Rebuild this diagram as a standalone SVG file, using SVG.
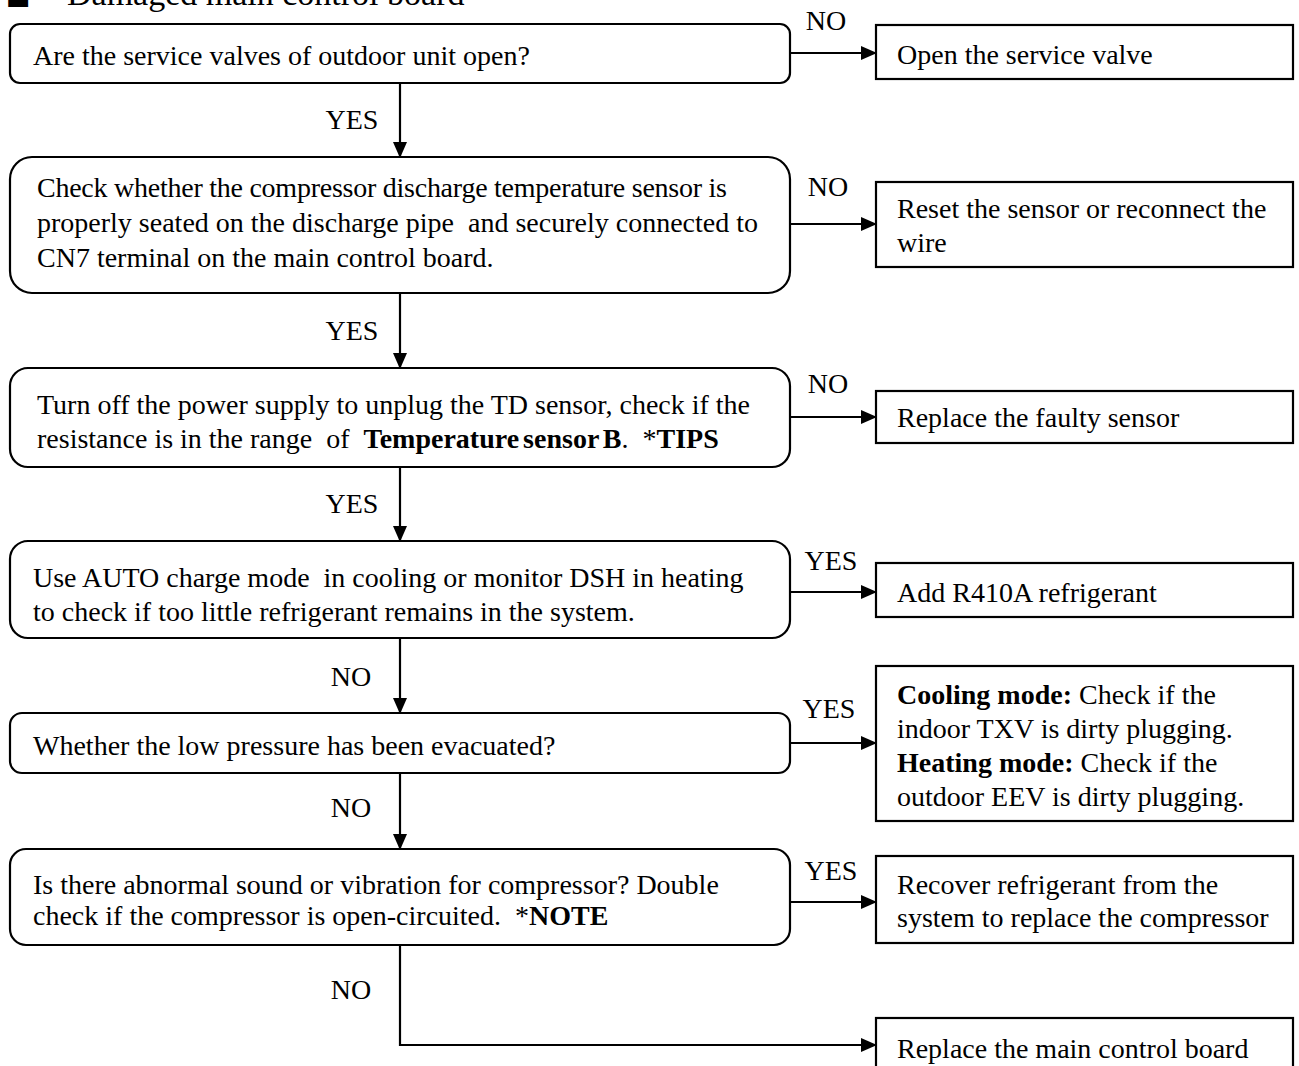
<svg xmlns="http://www.w3.org/2000/svg" width="1299" height="1066" viewBox="0 0 1299 1066">
<defs>
<style>
text{font-family:"Liberation Serif","Times New Roman",serif;font-size:28px;fill:#000;}
.t{font-size:34px;}
.b{font-weight:bold;}
.m{text-anchor:middle;}
.bx{fill:#fff;stroke:#000;stroke-width:2.2;}
.ln{fill:none;stroke:#000;stroke-width:2.2;}
</style>
<marker id="ah" markerUnits="userSpaceOnUse" markerWidth="16" markerHeight="14" refX="15" refY="7" orient="auto">
<path d="M0,0 L16,7 L0,14 Z" fill="#000"/>
</marker>
</defs>
<rect width="1299" height="1066" fill="#fff"/>
<g id="title">
<text x="6" y="4" style="font-family:'DejaVu Sans',sans-serif;font-size:26px">■</text>
<text class="t" x="67" y="5">Damaged main control board</text>
</g>
<g id="connectors">
<line class="ln" x1="790" y1="53" x2="876" y2="53" marker-end="url(#ah)"/>
<line class="ln" x1="400" y1="83" x2="400" y2="157" marker-end="url(#ah)"/>
<line class="ln" x1="790" y1="224" x2="876" y2="224" marker-end="url(#ah)"/>
<line class="ln" x1="400" y1="293" x2="400" y2="368" marker-end="url(#ah)"/>
<line class="ln" x1="790" y1="417" x2="876" y2="417" marker-end="url(#ah)"/>
<line class="ln" x1="400" y1="467" x2="400" y2="541" marker-end="url(#ah)"/>
<line class="ln" x1="790" y1="592" x2="876" y2="592" marker-end="url(#ah)"/>
<line class="ln" x1="400" y1="638" x2="400" y2="713" marker-end="url(#ah)"/>
<line class="ln" x1="790" y1="743" x2="876" y2="743" marker-end="url(#ah)"/>
<line class="ln" x1="400" y1="773" x2="400" y2="849" marker-end="url(#ah)"/>
<line class="ln" x1="790" y1="902" x2="876" y2="902" marker-end="url(#ah)"/>
<polyline class="ln" points="400,945 400,1045 876,1045" marker-end="url(#ah)"/>
<text class="m" x="826" y="30">NO</text>
<text class="m" x="352" y="129">YES</text>
<text class="m" x="828" y="196">NO</text>
<text class="m" x="352" y="340">YES</text>
<text class="m" x="828" y="393">NO</text>
<text class="m" x="352" y="513">YES</text>
<text class="m" x="831" y="570">YES</text>
<text class="m" x="351" y="686">NO</text>
<text class="m" x="829" y="718">YES</text>
<text class="m" x="351" y="817">NO</text>
<text class="m" x="831" y="880">YES</text>
<text class="m" x="351" y="999">NO</text>
</g>
<g id="q1">
<rect class="bx" x="10" y="24" width="780" height="59" rx="10"/>
<text x="33" y="65">Are the service valves of outdoor unit open?</text>
</g>
<g id="a1">
<rect class="bx" x="876" y="25" width="417" height="54"/>
<text x="897" y="64">Open the service valve</text>
</g>
<g id="q2">
<rect class="bx" x="10" y="157" width="780" height="136" rx="22"/>
<text x="37" y="197" textLength="690" lengthAdjust="spacing">Check whether the compressor discharge temperature sensor is</text>
<text x="37" y="232" xml:space="preserve">properly seated on the discharge pipe  and securely connected to</text>
<text x="37" y="267">CN7 terminal on the main control board.</text>
</g>
<g id="a2">
<rect class="bx" x="876" y="182" width="417" height="85"/>
<text x="897" y="218">Reset the sensor or reconnect the</text>
<text x="897" y="252">wire</text>
</g>
<g id="q3">
<rect class="bx" x="10" y="368" width="780" height="99" rx="18"/>
<text x="37" y="414">Turn off the power supply to unplug the TD sensor, check if the</text>
<text x="37" y="448" xml:space="preserve">resistance is in the range  of  <tspan class="b" style="word-spacing:-3px">Temperature sensor B</tspan>.  *<tspan class="b">TIPS</tspan></text>
</g>
<g id="a3">
<rect class="bx" x="876" y="391" width="417" height="52"/>
<text x="897" y="427">Replace the faulty sensor</text>
</g>
<g id="q4">
<rect class="bx" x="10" y="541" width="780" height="97" rx="18"/>
<text x="33" y="587" xml:space="preserve">Use AUTO charge mode  in cooling or monitor DSH in heating</text>
<text x="33" y="621">to check if too little refrigerant remains in the system.</text>
</g>
<g id="a4">
<rect class="bx" x="876" y="563" width="417" height="54"/>
<text x="897" y="602">Add R410A refrigerant</text>
</g>
<g id="q5">
<rect class="bx" x="10" y="713" width="780" height="60" rx="12"/>
<text x="33" y="755">Whether the low pressure has been evacuated?</text>
</g>
<g id="a5">
<rect class="bx" x="876" y="666" width="417" height="155"/>
<text x="897" y="704"><tspan class="b">Cooling mode:</tspan> Check if the</text>
<text x="897" y="738">indoor TXV is dirty plugging.</text>
<text x="897" y="772"><tspan class="b">Heating mode:</tspan> Check if the</text>
<text x="897" y="806">outdoor EEV is dirty plugging.</text>
</g>
<g id="q6">
<rect class="bx" x="10" y="849" width="780" height="96" rx="16"/>
<text x="33" y="894">Is there abnormal sound or vibration for compressor? Double</text>
<text x="33" y="925" xml:space="preserve">check if the compressor is open-circuited.  *<tspan class="b">NOTE</tspan></text>
</g>
<g id="a6">
<rect class="bx" x="876" y="856" width="417" height="87"/>
<text x="897" y="894">Recover refrigerant from the</text>
<text x="897" y="927">system to replace the compressor</text>
</g>
<g id="a7">
<rect class="bx" x="876" y="1018" width="417" height="60"/>
<text x="897" y="1058">Replace the main control board</text>
</g>
</svg>
